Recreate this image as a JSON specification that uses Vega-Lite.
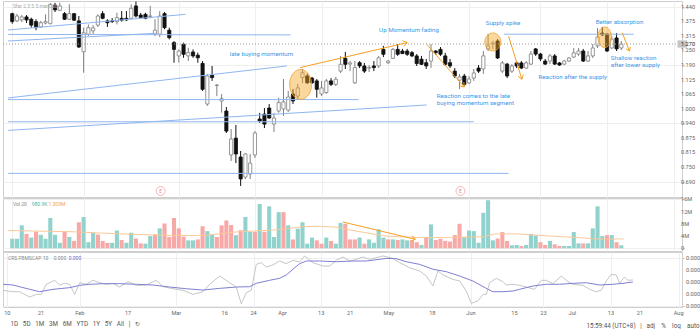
{
"$schema":"https://vega.github.io/schema/vega-lite/v6.json",
"background":"white","padding":0,"spacing":1,"bounds":"flush",
"config":{"view":{"stroke":"#cfcfcf","strokeWidth":1},"axis":{"labelFont":"Roboto","labelFontSize":5.6,"labelColor":"#666","gridColor":"#efefef","tickColor":"#bbb","domain":false},"text":{"font":"Roboto"}},
"title":{"text":"1D\u00a0\u00a0\u00a05D\u00a0\u00a0\u00a01M\u00a0\u00a0\u00a03M\u00a0\u00a0\u00a06M\u00a0\u00a0\u00a0YTD\u00a0\u00a0\u00a01Y\u00a0\u00a0\u00a05Y\u00a0\u00a0\u00a0All\u00a0\u00a0\u00a0|\u00a0\u00a0\u00a0↻","orient":"bottom","anchor":"start","dx":10,"offset":-7,"fontSize":6.3,"fontWeight":"normal","color":"#555","font":"Roboto"},
"datasets":{
"candles":[
{"i":0,"o":1.407,"h":1.411,"l":1.364,"c":1.373},{"i":1,"o":1.376,"h":1.406,"l":1.371,"c":1.397},{"i":2,"o":1.380,"h":1.401,"l":1.371,"c":1.393},{"i":3,"o":1.393,"h":1.401,"l":1.367,"c":1.380},{"i":4,"o":1.383,"h":1.390,"l":1.347,"c":1.358},{"i":5,"o":1.373,"h":1.383,"l":1.336,"c":1.347},{"i":6,"o":1.350,"h":1.376,"l":1.346,"c":1.368},{"i":7,"o":1.367,"h":1.404,"l":1.361,"c":1.373},{"i":8,"o":1.364,"h":1.453,"l":1.361,"c":1.447},{"i":9,"o":1.444,"h":1.453,"l":1.414,"c":1.423},
{"i":10,"o":1.421,"h":1.454,"l":1.418,"c":1.440},{"i":11,"o":1.407,"h":1.414,"l":1.380,"c":1.383},{"i":12,"o":1.383,"h":1.447,"l":1.380,"c":1.407},{"i":13,"o":1.407,"h":1.410,"l":1.376,"c":1.379},{"i":14,"o":1.376,"h":1.397,"l":1.260,"c":1.264},{"i":15,"o":1.244,"h":1.347,"l":1.154,"c":1.325},{"i":16,"o":1.319,"h":1.361,"l":1.311,"c":1.347},{"i":17,"o":1.333,"h":1.358,"l":1.320,"c":1.346},{"i":18,"o":1.358,"h":1.404,"l":1.350,"c":1.397},{"i":19,"o":1.407,"h":1.418,"l":1.383,"c":1.387},
{"i":20,"o":1.376,"h":1.383,"l":1.350,"c":1.368},{"i":21,"o":1.376,"h":1.388,"l":1.367,"c":1.373},{"i":22,"o":1.373,"h":1.411,"l":1.361,"c":1.390},{"i":23,"o":1.387,"h":1.418,"l":1.373,"c":1.379},{"i":24,"o":1.387,"h":1.418,"l":1.376,"c":1.380},{"i":25,"o":1.387,"h":1.447,"l":1.383,"c":1.430},{"i":26,"o":1.440,"h":1.459,"l":1.390,"c":1.397},{"i":27,"o":1.401,"h":1.410,"l":1.388,"c":1.390},{"i":28,"o":1.404,"h":1.411,"l":1.383,"c":1.387},{"i":29,"o":1.395,"h":1.440,"l":1.387,"c":1.397},
{"i":30,"o":1.319,"h":1.383,"l":1.311,"c":1.336},{"i":31,"o":1.319,"h":1.418,"l":1.307,"c":1.397},{"i":32,"o":1.407,"h":1.414,"l":1.340,"c":1.347},{"i":33,"o":1.336,"h":1.347,"l":1.297,"c":1.304},{"i":34,"o":1.283,"h":1.290,"l":1.197,"c":1.254},{"i":35,"o":1.226,"h":1.254,"l":1.197,"c":1.247},{"i":36,"o":1.276,"h":1.283,"l":1.218,"c":1.233},{"i":37,"o":1.226,"h":1.261,"l":1.204,"c":1.240},{"i":38,"o":1.243,"h":1.254,"l":1.218,"c":1.226},{"i":39,"o":1.229,"h":1.240,"l":1.197,"c":1.218},
{"i":40,"o":1.194,"h":1.204,"l":1.076,"c":1.083},{"i":41,"o":1.020,"h":1.149,"l":1.012,"c":1.140},{"i":42,"o":1.144,"h":1.183,"l":1.119,"c":1.133},{"i":43,"o":1.099,"h":1.106,"l":1.054,"c":1.101},{"i":44,"o":1.033,"h":1.063,"l":0.983,"c":1.043},{"i":45,"o":0.990,"h":1.007,"l":0.896,"c":0.904},{"i":46,"o":0.802,"h":0.913,"l":0.776,"c":0.870},{"i":47,"o":0.874,"h":0.930,"l":0.767,"c":0.806},{"i":48,"o":0.793,"h":0.819,"l":0.669,"c":0.699},{"i":49,"o":0.707,"h":0.810,"l":0.699,"c":0.806},
{"i":50,"o":0.720,"h":0.806,"l":0.699,"c":0.767},{"i":51,"o":0.802,"h":0.904,"l":0.789,"c":0.896},{"i":52,"o":0.956,"h":0.982,"l":0.939,"c":0.947},{"i":53,"o":0.977,"h":1.003,"l":0.917,"c":0.934},{"i":54,"o":1.003,"h":1.020,"l":0.956,"c":0.960},{"i":55,"o":0.934,"h":0.982,"l":0.900,"c":0.960},{"i":56,"o":0.990,"h":1.047,"l":0.983,"c":1.026},{"i":57,"o":0.999,"h":1.127,"l":0.969,"c":1.029},{"i":58,"o":0.994,"h":1.076,"l":0.986,"c":1.050},{"i":59,"o":1.063,"h":1.084,"l":1.020,"c":1.033},
{"i":60,"o":1.054,"h":1.106,"l":1.042,"c":1.089},{"i":61,"o":1.133,"h":1.170,"l":1.110,"c":1.154},{"i":62,"o":1.140,"h":1.149,"l":1.106,"c":1.111},{"i":63,"o":1.131,"h":1.136,"l":1.106,"c":1.111},{"i":64,"o":1.119,"h":1.127,"l":1.047,"c":1.083},{"i":65,"o":1.063,"h":1.119,"l":1.054,"c":1.089},{"i":66,"o":1.069,"h":1.127,"l":1.063,"c":1.119},{"i":67,"o":1.119,"h":1.131,"l":1.097,"c":1.104},{"i":68,"o":1.104,"h":1.136,"l":1.097,"c":1.126},{"i":69,"o":1.161,"h":1.226,"l":1.153,"c":1.190},
{"i":70,"o":1.216,"h":1.243,"l":1.170,"c":1.190},{"i":71,"o":1.191,"h":1.204,"l":1.161,"c":1.196},{"i":72,"o":1.111,"h":1.204,"l":1.106,"c":1.176},{"i":73,"o":1.197,"h":1.204,"l":1.174,"c":1.183},{"i":74,"o":1.183,"h":1.196,"l":1.153,"c":1.161},{"i":75,"o":1.174,"h":1.187,"l":1.157,"c":1.176},{"i":76,"o":1.183,"h":1.204,"l":1.161,"c":1.176},{"i":77,"o":1.183,"h":1.226,"l":1.174,"c":1.218},{"i":78,"o":1.254,"h":1.269,"l":1.221,"c":1.233},{"i":79,"o":1.197,"h":1.209,"l":1.191,"c":1.204},
{"i":80,"o":1.216,"h":1.260,"l":1.213,"c":1.254},{"i":81,"o":1.254,"h":1.277,"l":1.226,"c":1.233},{"i":82,"o":1.247,"h":1.256,"l":1.234,"c":1.236},{"i":83,"o":1.247,"h":1.256,"l":1.226,"c":1.233},{"i":84,"o":1.240,"h":1.247,"l":1.221,"c":1.226},{"i":85,"o":1.226,"h":1.234,"l":1.183,"c":1.193},{"i":86,"o":1.212,"h":1.226,"l":1.187,"c":1.190},{"i":87,"o":1.197,"h":1.213,"l":1.170,"c":1.183},{"i":88,"o":1.204,"h":1.277,"l":1.174,"c":1.247},{"i":89,"o":1.247,"h":1.251,"l":1.230,"c":1.240},
{"i":90,"o":1.254,"h":1.264,"l":1.226,"c":1.233},{"i":91,"o":1.226,"h":1.239,"l":1.183,"c":1.190},{"i":92,"o":1.197,"h":1.213,"l":1.174,"c":1.183},{"i":93,"o":1.161,"h":1.174,"l":1.131,"c":1.140},{"i":94,"o":1.122,"h":1.149,"l":1.084,"c":1.136},{"i":95,"o":1.140,"h":1.149,"l":1.097,"c":1.104},{"i":96,"o":1.110,"h":1.140,"l":1.106,"c":1.127},{"i":97,"o":1.131,"h":1.170,"l":1.119,"c":1.153},{"i":98,"o":1.174,"h":1.187,"l":1.153,"c":1.161},{"i":99,"o":1.170,"h":1.247,"l":1.149,"c":1.226},
{"i":100,"o":1.256,"h":1.320,"l":1.247,"c":1.269},{"i":101,"o":1.277,"h":1.290,"l":1.256,"c":1.281},{"i":102,"o":1.290,"h":1.298,"l":1.213,"c":1.217},{"i":103,"o":1.161,"h":1.204,"l":1.153,"c":1.196},{"i":104,"o":1.191,"h":1.196,"l":1.131,"c":1.140},{"i":105,"o":1.161,"h":1.191,"l":1.153,"c":1.183},{"i":106,"o":1.196,"h":1.204,"l":1.174,"c":1.183},{"i":107,"o":1.196,"h":1.204,"l":1.170,"c":1.174},{"i":108,"o":1.174,"h":1.204,"l":1.170,"c":1.196},{"i":109,"o":1.191,"h":1.247,"l":1.187,"c":1.234},
{"i":110,"o":1.256,"h":1.260,"l":1.226,"c":1.234},{"i":111,"o":1.234,"h":1.239,"l":1.204,"c":1.213},{"i":112,"o":1.204,"h":1.213,"l":1.187,"c":1.191},{"i":113,"o":1.204,"h":1.234,"l":1.191,"c":1.226},{"i":114,"o":1.226,"h":1.234,"l":1.187,"c":1.191},{"i":115,"o":1.196,"h":1.200,"l":1.183,"c":1.187},{"i":116,"o":1.191,"h":1.209,"l":1.187,"c":1.204},{"i":117,"o":1.204,"h":1.221,"l":1.200,"c":1.217},{"i":118,"o":1.221,"h":1.260,"l":1.217,"c":1.239},{"i":119,"o":1.234,"h":1.260,"l":1.226,"c":1.247},
{"i":120,"o":1.247,"h":1.256,"l":1.200,"c":1.204},{"i":121,"o":1.204,"h":1.247,"l":1.200,"c":1.226},{"i":122,"o":1.226,"h":1.277,"l":1.217,"c":1.260},{"i":123,"o":1.269,"h":1.346,"l":1.260,"c":1.307},{"i":124,"o":1.324,"h":1.350,"l":1.311,"c":1.316},{"i":125,"o":1.320,"h":1.324,"l":1.243,"c":1.247},{"i":126,"o":1.260,"h":1.311,"l":1.256,"c":1.298},{"i":127,"o":1.303,"h":1.324,"l":1.247,"c":1.256},{"i":128,"o":1.260,"h":1.290,"l":1.251,"c":1.277}
],
"volume":[
{"i":0,"v":3.1,"d":"u"},{"i":1,"v":3.1,"d":"u"},{"i":2,"v":7.5,"d":"u"},{"i":3,"v":4.7,"d":"d"},{"i":4,"v":3.5,"d":"u"},{"i":5,"v":5.4,"d":"d"},{"i":6,"v":4.4,"d":"u"},{"i":7,"v":3.1,"d":"u"},{"i":8,"v":9.9,"d":"u"},{"i":9,"v":4.4,"d":"u"},
{"i":10,"v":1.8,"d":"u"},{"i":11,"v":5.4,"d":"d"},{"i":12,"v":3.7,"d":"u"},{"i":13,"v":2.4,"d":"d"},{"i":14,"v":8.5,"d":"d"},{"i":15,"v":10.2,"d":"u"},{"i":16,"v":2.0,"d":"u"},{"i":17,"v":5.1,"d":"u"},{"i":18,"v":4.5,"d":"d"},{"i":19,"v":2.4,"d":"d"},
{"i":20,"v":1.8,"d":"d"},{"i":21,"v":1.8,"d":"u"},{"i":22,"v":5.8,"d":"u"},{"i":23,"v":2.7,"d":"d"},{"i":24,"v":1.8,"d":"u"},{"i":25,"v":5.1,"d":"u"},{"i":26,"v":3.2,"d":"d"},{"i":27,"v":1.6,"d":"d"},{"i":28,"v":1.5,"d":"u"},{"i":29,"v":4.0,"d":"u"},
{"i":30,"v":4.5,"d":"d"},{"i":31,"v":6.5,"d":"u"},{"i":32,"v":8.1,"d":"d"},{"i":33,"v":3.7,"d":"d"},{"i":34,"v":9.9,"d":"d"},{"i":35,"v":6.5,"d":"d"},{"i":36,"v":3.8,"d":"d"},{"i":37,"v":2.6,"d":"u"},{"i":38,"v":2.6,"d":"u"},{"i":39,"v":2.9,"d":"d"},
{"i":40,"v":7.2,"d":"d"},{"i":41,"v":5.6,"d":"u"},{"i":42,"v":4.5,"d":"u"},{"i":43,"v":3.7,"d":"d"},{"i":44,"v":7.5,"d":"d"},{"i":45,"v":9.1,"d":"d"},{"i":46,"v":7.6,"d":"d"},{"i":47,"v":4.3,"d":"u"},{"i":48,"v":5.9,"d":"d"},{"i":49,"v":10.2,"d":"u"},
{"i":50,"v":5.4,"d":"u"},{"i":51,"v":5.4,"d":"d"},{"i":52,"v":14.5,"d":"u"},{"i":53,"v":5.4,"d":"d"},{"i":54,"v":13.7,"d":"u"},{"i":55,"v":3.7,"d":"u"},{"i":56,"v":11.8,"d":"u"},{"i":57,"v":11.8,"d":"d"},{"i":58,"v":7.5,"d":"u"},{"i":59,"v":2.9,"d":"d"},
{"i":60,"v":6.4,"d":"u"},{"i":61,"v":8.5,"d":"u"},{"i":62,"v":1.5,"d":"u"},{"i":63,"v":3.5,"d":"u"},{"i":64,"v":2.6,"d":"d"},{"i":65,"v":1.5,"d":"d"},{"i":66,"v":3.5,"d":"u"},{"i":67,"v":2.4,"d":"d"},{"i":68,"v":1.5,"d":"u"},{"i":69,"v":8.3,"d":"u"},
{"i":70,"v":8.0,"d":"d"},{"i":71,"v":2.9,"d":"d"},{"i":72,"v":2.9,"d":"d"},{"i":73,"v":3.5,"d":"u"},{"i":74,"v":1.5,"d":"d"},{"i":75,"v":2.9,"d":"u"},{"i":76,"v":1.8,"d":"u"},{"i":77,"v":6.2,"d":"u"},{"i":78,"v":3.5,"d":"u"},{"i":79,"v":2.9,"d":"d"},
{"i":80,"v":2.9,"d":"u"},{"i":81,"v":2.7,"d":"d"},{"i":82,"v":2.9,"d":"u"},{"i":83,"v":2.6,"d":"u"},{"i":84,"v":2.6,"d":"d"},{"i":85,"v":2.0,"d":"d"},{"i":86,"v":1.1,"d":"u"},{"i":87,"v":3.7,"d":"d"},{"i":88,"v":7.8,"d":"u"},{"i":89,"v":2.7,"d":"d"},
{"i":90,"v":3.1,"d":"d"},{"i":91,"v":2.4,"d":"d"},{"i":92,"v":2.2,"d":"d"},{"i":93,"v":4.3,"d":"d"},{"i":94,"v":8.0,"d":"d"},{"i":95,"v":3.7,"d":"u"},{"i":96,"v":5.8,"d":"u"},{"i":97,"v":5.6,"d":"u"},{"i":98,"v":1.8,"d":"u"},{"i":99,"v":11.6,"d":"u"},
{"i":100,"v":15.7,"d":"u"},{"i":101,"v":2.6,"d":"u"},{"i":102,"v":3.2,"d":"d"},{"i":103,"v":5.3,"d":"d"},{"i":104,"v":2.4,"d":"d"},{"i":105,"v":1.0,"d":"u"},{"i":106,"v":1.1,"d":"u"},{"i":107,"v":0.75,"d":"d"},{"i":108,"v":1.1,"d":"u"},{"i":109,"v":4.7,"d":"u"},
{"i":110,"v":4.2,"d":"u"},{"i":111,"v":2.0,"d":"d"},{"i":112,"v":1.1,"d":"d"},{"i":113,"v":2.4,"d":"u"},{"i":114,"v":1.3,"d":"d"},{"i":115,"v":0.75,"d":"d"},{"i":116,"v":0.75,"d":"u"},{"i":117,"v":0.75,"d":"u"},{"i":118,"v":5.3,"d":"u"},{"i":119,"v":1.6,"d":"u"},
{"i":120,"v":1.6,"d":"d"},{"i":121,"v":1.6,"d":"u"},{"i":122,"v":6.5,"d":"u"},{"i":123,"v":13.7,"d":"u"},{"i":124,"v":4.0,"d":"u"},{"i":125,"v":4.3,"d":"d"},{"i":126,"v":4.3,"d":"u"},{"i":127,"v":2.0,"d":"d"},{"i":128,"v":0.98,"d":"u"}
],
"vma":[
{"i":-0.89,"v":5.8},{"i":6.0,"v":5.6},{"i":12.9,"v":5.4},{"i":19.8,"v":4.9},{"i":26.7,"v":4.5},{"i":33.6,"v":4.2},{"i":40.5,"v":4.2},{"i":47.4,"v":5.4},{"i":54.3,"v":5.9},{"i":57.8,"v":6.4},{"i":61.2,"v":7.1},{"i":64.7,"v":7.2},{"i":68.1,"v":6.9},{"i":71.6,"v":5.8},{"i":78.5,"v":4.0},{"i":85.4,"v":3.5},{"i":92.3,"v":3.5},{"i":99.2,"v":3.8},{"i":101.3,"v":4.7},{"i":106.1,"v":4.7},{"i":113,"v":4.0},{"i":119.9,"v":3.4},{"i":122,"v":3.1},{"i":125.4,"v":3.0},{"i":128.5,"v":3.1}
],
"ind":[
{"i":-0.89,"v":1.31,"s":"c"},{"i":1.18,"v":1.19,"s":"c"},{"i":2.57,"v":1.19,"s":"c"},{"i":4.64,"v":0.75,"s":"c"},{"i":6.0,"v":0.97,"s":"c"},{"i":7.04,"v":0.97,"s":"c"},{"i":8.07,"v":1.81,"s":"c"},{"i":9.81,"v":2.14,"s":"c"},{"i":10.85,"v":1.75,"s":"c"},{"i":11.88,"v":1.89,"s":"c"},{"i":12.92,"v":1.81,"s":"c"},{"i":13.95,"v":0.97,"s":"c"},{"i":14.99,"v":1.94,"s":"c"},{"i":16.36,"v":1.81,"s":"c"},{"i":17.74,"v":2.14,"s":"c"},{"i":19.13,"v":1.94,"s":"c"},{"i":20.5,"v":1.81,"s":"c"},{"i":21.88,"v":1.89,"s":"c"},{"i":23.27,"v":1.58,"s":"c"},{"i":24.99,"v":2.03,"s":"c"},{"i":26.71,"v":1.72,"s":"c"},{"i":28.78,"v":1.75,"s":"c"},{"i":30.85,"v":2.14,"s":"c"},{"i":32.24,"v":1.61,"s":"c"},{"i":34.3,"v":1.44,"s":"c"},{"i":36.38,"v":1.31,"s":"c"},{"i":38.45,"v":0.97,"s":"c"},{"i":40.52,"v":1.19,"s":"c"},{"i":41.9,"v":1.81,"s":"c"},{"i":43.97,"v":2.5,"s":"c"},{"i":46.05,"v":1.94,"s":"c"},{"i":47.41,"v":1.58,"s":"c"},{"i":48.45,"v":0.19,"s":"c"},{"i":49.48,"v":1.11,"s":"c"},{"i":50.52,"v":1.31,"s":"c"},{"i":51.55,"v":3.47,"s":"c"},{"i":52.59,"v":3.61,"s":"c"},{"i":53.63,"v":3.25,"s":"c"},{"i":55.0,"v":3.42,"s":"c"},{"i":56.4,"v":3.75,"s":"c"},{"i":57.76,"v":3.53,"s":"c"},{"i":59.15,"v":3.81,"s":"c"},{"i":60.53,"v":3.67,"s":"c"},{"i":61.57,"v":4.17,"s":"c"},{"i":63.29,"v":3.61,"s":"c"},{"i":65.36,"v":3.33,"s":"c"},{"i":66.75,"v":3.33,"s":"c"},{"i":68.12,"v":3.81,"s":"c"},{"i":69.5,"v":4.08,"s":"c"},{"i":70.89,"v":3.75,"s":"c"},{"i":71.57,"v":3.81,"s":"c"},{"i":73.64,"v":4.08,"s":"c"},{"i":75.03,"v":3.89,"s":"c"},{"i":77.78,"v":4.17,"s":"c"},{"i":79.85,"v":3.97,"s":"c"},{"i":81.24,"v":3.61,"s":"c"},{"i":83.31,"v":3.19,"s":"c"},{"i":85.38,"v":2.92,"s":"c"},{"i":86.75,"v":2.5,"s":"c"},{"i":88.14,"v":1.67,"s":"c"},{"i":89.17,"v":2.92,"s":"c"},{"i":90.21,"v":2.58,"s":"c"},{"i":92.28,"v":2.22,"s":"c"},{"i":93.66,"v":2.08,"s":"c"},{"i":95.03,"v":1.25,"s":"c"},{"i":96.07,"v":0.22,"s":"c"},{"i":97.45,"v":0.42,"s":"c"},{"i":98.49,"v":0.97,"s":"c"},{"i":99.17,"v":0.97,"s":"c"},{"i":99.88,"v":1.94,"s":"c"},{"i":101.24,"v":2.31,"s":"c"},{"i":102.63,"v":2.03,"s":"c"},{"i":103.31,"v":1.75,"s":"c"},{"i":104.7,"v":1.81,"s":"c"},{"i":106.09,"v":1.72,"s":"c"},{"i":107.45,"v":1.58,"s":"c"},{"i":109.19,"v":1.39,"s":"c"},{"i":110.56,"v":2.14,"s":"c"},{"i":111.59,"v":2.14,"s":"c"},{"i":112.98,"v":1.86,"s":"c"},{"i":114.7,"v":2.5,"s":"c"},{"i":116.09,"v":2.03,"s":"c"},{"i":117.13,"v":1.81,"s":"c"},{"i":119.2,"v":1.72,"s":"c"},{"i":120.58,"v":1.39,"s":"c"},{"i":121.95,"v":1.19,"s":"c"},{"i":122.98,"v":1.31,"s":"c"},{"i":124.02,"v":2.08,"s":"c"},{"i":125.05,"v":2.64,"s":"c"},{"i":126.09,"v":2.58,"s":"c"},{"i":126.78,"v":1.89,"s":"c"},{"i":127.81,"v":2.42,"s":"c"},{"i":128.5,"v":2.14,"s":"c"},{"i":129.54,"v":2.17,"s":"c"},
{"i":-0.89,"v":1.81,"s":"m"},{"i":1.18,"v":1.75,"s":"m"},{"i":4.64,"v":1.39,"s":"m"},{"i":6.7,"v":1.19,"s":"m"},{"i":9.46,"v":1.39,"s":"m"},{"i":12.92,"v":1.53,"s":"m"},{"i":14.99,"v":1.72,"s":"m"},{"i":17.05,"v":1.81,"s":"m"},{"i":19.81,"v":1.86,"s":"m"},{"i":23.27,"v":1.86,"s":"m"},{"i":26.71,"v":1.81,"s":"m"},{"i":30.16,"v":1.75,"s":"m"},{"i":33.61,"v":1.58,"s":"m"},{"i":37.07,"v":1.44,"s":"m"},{"i":40.52,"v":1.33,"s":"m"},{"i":43.97,"v":1.47,"s":"m"},{"i":47.41,"v":1.58,"s":"m"},{"i":50.17,"v":1.61,"s":"m"},{"i":51.55,"v":1.89,"s":"m"},{"i":54.31,"v":2.14,"s":"m"},{"i":56.38,"v":2.31,"s":"m"},{"i":57.76,"v":2.58,"s":"m"},{"i":59.15,"v":3.06,"s":"m"},{"i":60.53,"v":3.53,"s":"m"},{"i":61.91,"v":3.75,"s":"m"},{"i":64.67,"v":3.75,"s":"m"},{"i":68.12,"v":3.69,"s":"m"},{"i":71.57,"v":3.75,"s":"m"},{"i":74.33,"v":3.75,"s":"m"},{"i":77.1,"v":3.89,"s":"m"},{"i":78.47,"v":3.97,"s":"m"},{"i":80.54,"v":3.94,"s":"m"},{"i":82.61,"v":3.69,"s":"m"},{"i":85.38,"v":3.47,"s":"m"},{"i":88.14,"v":3.06,"s":"m"},{"i":90.9,"v":2.86,"s":"m"},{"i":93.66,"v":2.5,"s":"m"},{"i":96.42,"v":2.08,"s":"m"},{"i":99.17,"v":1.47,"s":"m"},{"i":100.56,"v":1.19,"s":"m"},{"i":102.63,"v":1.19,"s":"m"},{"i":104.7,"v":1.25,"s":"m"},{"i":106.09,"v":1.39,"s":"m"},{"i":108.85,"v":1.67,"s":"m"},{"i":111.61,"v":1.81,"s":"m"},{"i":114.37,"v":1.81,"s":"m"},{"i":117.13,"v":1.89,"s":"m"},{"i":119.89,"v":1.94,"s":"m"},{"i":122.65,"v":1.75,"s":"m"},{"i":125.4,"v":1.81,"s":"m"},{"i":127.47,"v":1.89,"s":"m"},{"i":129.54,"v":2.0,"s":"m"}
],
"trend":[
{"x1":-0.89,"y1":1.337,"x2":36.4,"y2":1.404},{"x1":-0.89,"y1":1.290,"x2":30.2,"y2":1.323},{"x1":-0.89,"y1":1.318,"x2":58.5,"y2":1.316},{"x1":-0.89,"y1":1.046,"x2":57.7,"y2":1.183},{"x1":-0.89,"y1":1.039,"x2":72.8,"y2":1.039},{"x1":-0.89,"y1":0.907,"x2":87.1,"y2":1.016},{"x1":-0.89,"y1":0.944,"x2":97.0,"y2":0.944},{"x1":-0.89,"y1":0.723,"x2":104.3,"y2":0.723},{"x1":103.3,"y1":1.319,"x2":130.6,"y2":1.319}
],
"arrowsP":[
{"x1":60.5,"y1":1.176,"x2":83.0,"y2":1.283},{"x1":83.0,"y1":1.283,"x2":82.0,"y2":1.291},{"x1":83.0,"y1":1.283,"x2":82.3,"y2":1.267},
{"x1":87.1,"y1":1.276,"x2":95.0,"y2":1.093},{"x1":95.0,"y1":1.093,"x2":94.9,"y2":1.114},{"x1":95.0,"y1":1.093,"x2":94.0,"y2":1.098},
{"x1":104.3,"y1":1.311,"x2":107.1,"y2":1.126},{"x1":107.1,"y1":1.126,"x2":107.4,"y2":1.146},{"x1":107.1,"y1":1.126,"x2":106.3,"y2":1.139},
{"x1":128.2,"y1":1.325,"x2":129.7,"y2":1.247},{"x1":129.7,"y1":1.247,"x2":129.9,"y2":1.264},{"x1":129.7,"y1":1.247,"x2":129.0,"y2":1.256}
],
"arrowsV":[
{"x1":69.5,"y1":8.59,"x2":84.7,"y2":2.94},{"x1":84.7,"y1":2.94,"x2":84.0,"y2":4.15},{"x1":84.7,"y1":2.94,"x2":83.7,"y2":2.32}
],
"ellipses":[{"e":"A","i":60.6,"p":1.104},{"e":"B","i":101.0,"p":1.286},{"e":"C","i":124.5,"p":1.306}],
"notes":[
{"i":45.7,"p":1.233,"t":"late buying momentum"},{"i":77.1,"p":1.337,"t":"Up Momentum fading"},{"i":99.5,"p":1.369,"t":"Supply spike"},{"i":122.6,"p":1.371,"t":"Better absorption"},{"i":89.2,"p":1.054,"t":"Reaction comes to the late"},{"i":89.2,"p":1.024,"t":"buying momentum segment"},{"i":110.6,"p":1.137,"t":"Reaction after the supply"},{"i":125.8,"p":1.219,"t":"Shallow reaction"},{"i":125.8,"p":1.189,"t":"after lower supply"}
],
"earn":[{"i":31.2,"p":0.6475},{"i":94.2,"p":0.6475}],
"plegend":[{"i":0.14,"p":1.440,"t":"Sfar 2 3 5 5 manLab"}],
"pticks":[{"p":0.6875,"t":"0.690"},{"p":0.75,"t":"0.750"},{"p":0.8125,"t":"0.815"},{"p":0.875,"t":"0.875"},{"p":0.9375,"t":"0.940"},{"p":1.0,"t":"1.000"},{"p":1.0625,"t":"1.065"},{"p":1.125,"t":"1.125"},{"p":1.1875,"t":"1.190"},{"p":1.25,"t":"1.250"},{"p":1.3125,"t":"1.315"},{"p":1.375,"t":"1.375"},{"p":1.4375,"t":"1.440"}],
"ptag":[{"p":1.277,"t":"1.270"}],
"vticks":[{"v":0,"t":"0"},{"v":4,"t":"4M"},{"v":8,"t":"8M"},{"v":12,"t":"12M"},{"v":16,"t":"16M"}],
"iticks":[{"v":0,"t":"0.000"},{"v":1,"t":"0.000"},{"v":2,"t":"0.000"},{"v":3,"t":"0.000"},{"v":4,"t":"0.000"}],
"xlabels":[{"i":0,"t":"10"},{"i":7,"t":"21"},{"i":15,"t":"Feb"},{"i":25,"t":"17"},{"i":35,"t":"Mar"},{"i":45,"t":"16"},{"i":51,"t":"24"},{"i":57,"t":"Apr"},{"i":65,"t":"13"},{"i":71,"t":"21"},{"i":79,"t":"May"},{"i":88,"t":"18"},{"i":96,"t":"Jun"},{"i":105,"t":"15"},{"i":111,"t":"23"},{"i":117,"t":"Jul"},{"i":125,"t":"13"},{"i":131,"t":"21"},{"i":139,"t":"Aug"}],
"vlegend":[{"i":0.14,"v":14.37,"t":"Vol 20","k":"a"},{"i":4.1,"v":14.37,"t":"980.9K","k":"b"},{"i":7.6,"v":14.37,"t":"1.309M","k":"c"}],
"ilegend":[{"i":0.14,"v":4.03,"t":"CRS FBMSCAP 10","k":"a"},{"i":9.6,"v":4.03,"t":"0.000","k":"a"},{"i":12.7,"v":4.03,"t":"0.000","k":"m"}]
},
"vconcat":[
{"width":679,"height":196,
"layer":[
{"data":{"name":"candles"},"mark":{"type":"rule","strokeWidth":1},
"encoding":{
"x":{"field":"i","type":"quantitative","scale":{"domain":[-0.89,139.7],"nice":false,"zero":false},"axis":{"title":null,"labels":false,"ticks":false,"grid":true,"values":[0,7,15,25,35,45,51,57,65,71,79,88,96,105,111,117,125,131,139]}},
"y":{"field":"l","type":"quantitative","scale":{"domain":[0.6218,1.4612],"nice":false,"zero":false},"axis":{"orient":"right","title":null,"labels":false,"values":[0.6875,0.75,0.8125,0.875,0.9375,1.0,1.0625,1.125,1.1875,1.25,1.3125,1.375,1.4375],"tickSize":2,"grid":true}},
"y2":{"field":"h"},
"color":{"condition":{"test":"datum.c >= datum.o","value":"#808080"},"value":"#111"}}},
{"data":{"name":"candles"},"mark":{"type":"bar","size":3.2,"strokeWidth":0.8},
"encoding":{"x":{"field":"i","type":"quantitative"},"y":{"field":"o","type":"quantitative"},"y2":{"field":"c"},
"fill":{"condition":{"test":"datum.c >= datum.o","value":"#ffffff"},"value":"#111"},
"stroke":{"condition":{"test":"datum.c >= datum.o","value":"#808080"},"value":"#111"}}},
{"data":{"name":"trend"},"mark":{"type":"rule","color":"#8fb6f0","strokeWidth":1},
"encoding":{"x":{"field":"x1","type":"quantitative"},"x2":{"field":"x2"},"y":{"field":"y1","type":"quantitative"},"y2":{"field":"y2"}}},
{"data":{"name":"ptag"},"mark":{"type":"rule","color":"#9a9a9a","strokeDash":[1,2],"strokeWidth":1},"encoding":{"y":{"field":"p","type":"quantitative"}}},
{"data":{"name":"ellipses"},"mark":{"type":"point","filled":true,"fill":"#f5a623","fillOpacity":0.45,"stroke":"#f0a030","strokeWidth":0.8,"size":900},
"encoding":{"x":{"field":"i","type":"quantitative"},"y":{"field":"p","type":"quantitative"},
"shape":{"field":"e","type":"nominal","legend":null,"scale":{"domain":["A","B","C"],"range":["M 0 -1 C 0.405 -1 0.733 -0.552 0.733 0 C 0.733 0.552 0.405 1 0 1 C -0.405 1 -0.733 0.552 -0.733 0 C -0.733 -0.552 -0.405 -1 0 -1 Z","M 0 -0.6 C 0.294 -0.6 0.533 -0.331 0.533 0 C 0.533 0.331 0.294 0.6 0 0.6 C -0.294 0.6 -0.533 0.331 -0.533 0 C -0.533 -0.331 -0.294 -0.6 0 -0.6 Z","M 0 -0.69 C 0.247 -0.69 0.447 -0.381 0.447 0 C 0.447 0.381 0.247 0.69 0 0.69 C -0.247 0.69 -0.447 0.381 -0.447 0 C -0.447 -0.381 -0.247 -0.69 0 -0.69 Z"]}}}},
{"data":{"name":"arrowsP"},"mark":{"type":"rule","color":"#f5a021","strokeWidth":1},
"encoding":{"x":{"field":"x1","type":"quantitative"},"x2":{"field":"x2"},"y":{"field":"y1","type":"quantitative"},"y2":{"field":"y2"}}},
{"data":{"name":"notes"},"mark":{"type":"text","align":"left","baseline":"middle","fontSize":6.2,"color":"#3d97e6"},
"encoding":{"x":{"field":"i","type":"quantitative"},"y":{"field":"p","type":"quantitative"},"text":{"field":"t"}}},
{"data":{"name":"earn"},"mark":{"type":"point","shape":"circle","size":80,"stroke":"#f2a3a3","strokeWidth":0.8,"fill":"white","filled":true,"opacity":1},
"encoding":{"x":{"field":"i","type":"quantitative"},"y":{"field":"p","type":"quantitative"}}},
{"data":{"name":"earn"},"mark":{"type":"text","text":"E","fontSize":5,"color":"#f08a8a","baseline":"middle"},
"encoding":{"x":{"field":"i","type":"quantitative"},"y":{"field":"p","type":"quantitative"}}},
{"data":{"name":"plegend"},"mark":{"type":"text","align":"left","baseline":"middle","fontSize":5,"color":"#aaa"},
"encoding":{"x":{"field":"i","type":"quantitative"},"y":{"field":"p","type":"quantitative"},"text":{"field":"t"}}},
{"data":{"name":"pticks"},"mark":{"type":"text","align":"left","baseline":"middle","dx":4,"fontSize":5.6,"color":"#666"},
"encoding":{"x":{"datum":139.7,"type":"quantitative"},"y":{"field":"p","type":"quantitative"},"text":{"field":"t"}}},
{"data":{"name":"ptag"},"mark":{"type":"point","filled":true,"fill":"#c4c4c4","opacity":1,"size":400,"shape":"M 0.05 -0.36 L 1.02 -0.36 L 1.02 0.36 L 0.05 0.36 Z"},
"encoding":{"x":{"datum":139.7,"type":"quantitative"},"y":{"field":"p","type":"quantitative"}}},
{"data":{"name":"ptag"},"mark":{"type":"text","align":"left","baseline":"middle","dx":4,"fontSize":5.6,"color":"#222"},
"encoding":{"x":{"datum":139.7,"type":"quantitative"},"y":{"field":"p","type":"quantitative"},"text":{"field":"t"}}}
]},
{"width":679,"height":53,
"layer":[
{"data":{"name":"volume"},"mark":{"type":"bar","size":4.1},
"encoding":{
"x":{"field":"i","type":"quantitative","scale":{"domain":[-0.89,139.7],"nice":false,"zero":false},"axis":{"title":null,"labels":false,"ticks":false,"grid":true,"values":[0,7,15,25,35,45,51,57,65,71,79,88,96,105,111,117,125,131,139]}},
"y":{"field":"v","type":"quantitative","scale":{"domain":[-0.88,16.42],"nice":false,"zero":false},"axis":{"orient":"right","title":null,"labels":false,"values":[0,4,8,12,16],"tickSize":2,"grid":true}},
"y2":{"datum":0},
"color":{"condition":{"test":"datum.d == 'u'","value":"#92d2cc"},"value":"#f7a9a7"}}},
{"data":{"name":"vma"},"mark":{"type":"line","color":"#fbc99a","strokeWidth":1},
"encoding":{"x":{"field":"i","type":"quantitative"},"y":{"field":"v","type":"quantitative"}}},
{"data":{"name":"arrowsV"},"mark":{"type":"rule","color":"#f5a021","strokeWidth":1},
"encoding":{"x":{"field":"x1","type":"quantitative"},"x2":{"field":"x2"},"y":{"field":"y1","type":"quantitative"},"y2":{"field":"y2"}}},
{"data":{"name":"vlegend"},"mark":{"type":"text","align":"left","baseline":"middle","fontSize":5},
"encoding":{"x":{"field":"i","type":"quantitative"},"y":{"field":"v","type":"quantitative"},"text":{"field":"t"},
"color":{"condition":[{"test":"datum.k == 'b'","value":"#4db6ac"},{"test":"datum.k == 'c'","value":"#f5a04a"}],"value":"#888"}}},
{"data":{"name":"vticks"},"mark":{"type":"text","align":"left","baseline":"middle","dx":4,"fontSize":5.6,"color":"#666"},
"encoding":{"x":{"datum":139.7,"type":"quantitative"},"y":{"field":"v","type":"quantitative"},"text":{"field":"t"}}}
]},
{"width":679,"height":55,
"layer":[
{"data":{"name":"ind"},"mark":{"type":"line","strokeWidth":1},
"encoding":{
"x":{"field":"i","type":"quantitative","scale":{"domain":[-0.89,139.7],"nice":false,"zero":false},"axis":{"title":null,"labels":false,"ticks":false,"grid":true,"values":[0,7,15,25,35,45,51,57,65,71,79,88,96,105,111,117,125,131,139]}},
"y":{"field":"v","type":"quantitative","scale":{"domain":[-0.083,4.5],"nice":false,"zero":false},"axis":{"orient":"right","title":null,"labels":false,"values":[0,1,2,3,4],"tickSize":2,"grid":true}},
"stroke":{"condition":{"test":"datum.s == 'm'","value":"#7f7fd2"},"value":"#c6c6c6"},
"detail":{"field":"s"}}},
{"data":{"name":"ilegend"},"mark":{"type":"text","align":"left","baseline":"middle","fontSize":5},
"encoding":{"x":{"field":"i","type":"quantitative"},"y":{"field":"v","type":"quantitative"},"text":{"field":"t"},
"color":{"condition":{"test":"datum.k == 'm'","value":"#6b6bd6"},"value":"#888"}}},
{"data":{"name":"iticks"},"mark":{"type":"text","align":"left","baseline":"middle","dx":4,"fontSize":5.6,"color":"#666"},
"encoding":{"x":{"datum":139.7,"type":"quantitative"},"y":{"field":"v","type":"quantitative"},"text":{"field":"t"}}}
]},
{"width":679,"height":9,"view":{"stroke":null},
"data":{"name":"xlabels"},
"mark":{"type":"text","baseline":"middle","fontSize":5.6,"color":"#666"},
"encoding":{
"x":{"field":"i","type":"quantitative","scale":{"domain":[-0.89,139.7],"nice":false,"zero":false},"axis":{"labels":false,"ticks":false,"grid":false,"domain":false,
"title":"15:59:44 (UTC+8)\u00a0\u00a0\u00a0|\u00a0\u00a0\u00a0adj\u00a0\u00a0\u00a0\u00a0%\u00a0\u00a0\u00a0\u00a0log\u00a0\u00a0\u00a0\u00a0auto","titleX":696,"titleY":8,"titleAlign":"right","titleBaseline":"middle","titleFontSize":6.3,"titleFontWeight":"normal","titleColor":"#555","titleFont":"Roboto"}},
"text":{"field":"t"}}}
]
}
